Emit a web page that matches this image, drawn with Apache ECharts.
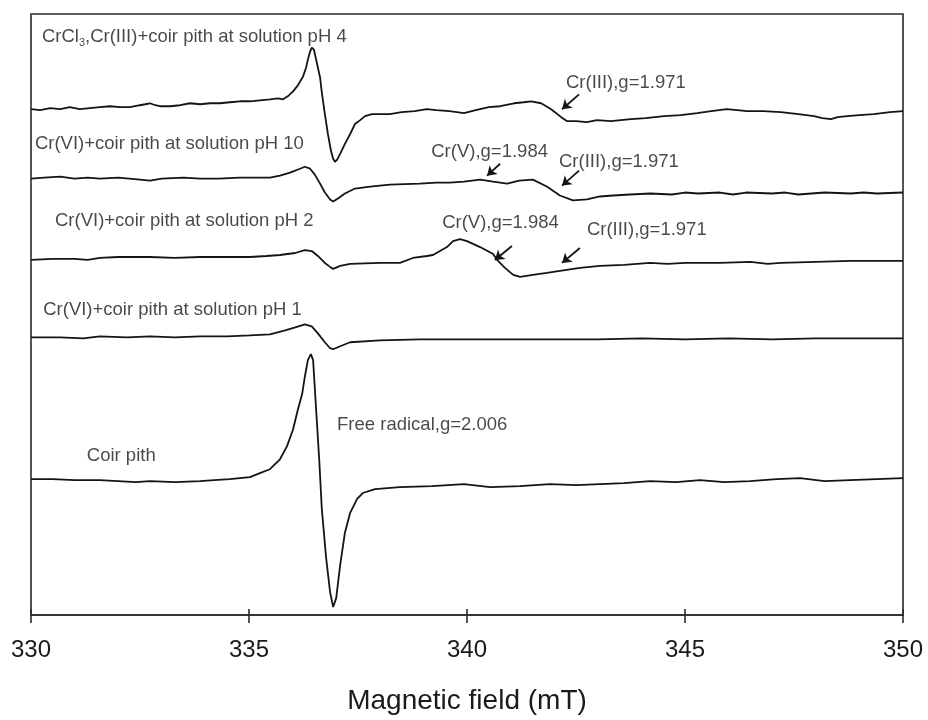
<!DOCTYPE html>
<html>
<head>
<meta charset="utf-8">
<title>EPR spectra of coir pith with chromium</title>
<script src="https://cdn.jsdelivr.net/npm/echarts@6/dist/echarts.min.js"></script>
<style>
  html, body { margin: 0; padding: 0; background: #ffffff; }
  #chart { width: 928px; height: 720px; }
</style>
</head>
<body>
<div id="chart"></div>
<script>
// Magnetic field (mT) and stacked EPR signal (arbitrary units, offset per sample)
const fieldTicks = [330, 335, 340, 345, 350];

const crCl3pH4 = [
  [330.00, 51.0], [330.21, 50.9], [330.44, 51.1], [330.67, 51.0], [330.89, 51.2], [331.12, 51.0],
  [331.35, 51.1], [331.58, 51.2], [331.81, 51.3], [332.04, 51.2], [332.27, 51.2], [332.50, 51.4],
  [332.62, 51.5], [332.73, 51.6], [332.85, 51.4], [332.96, 51.3], [333.19, 51.3], [333.42, 51.4],
  [333.65, 51.6], [333.88, 51.5], [334.11, 51.6], [334.33, 51.6], [334.56, 51.7], [334.79, 51.8],
  [335.02, 51.8], [335.25, 51.9], [335.48, 52.0], [335.67, 52.1], [335.78, 52.0], [335.89, 52.3],
  [336.01, 52.8], [336.12, 53.4], [336.24, 54.3], [336.31, 55.2], [336.35, 56.0], [336.40, 56.8],
  [336.44, 57.2], [336.49, 57.0], [336.54, 56.0], [336.58, 55.8], [336.63, 54.2], [336.67, 52.7],
  [336.74, 50.5], [336.81, 48.5], [336.88, 46.8], [336.93, 46.0], [336.97, 45.7], [337.02, 45.9],
  [337.09, 46.5], [337.20, 47.5], [337.32, 48.5], [337.43, 49.5], [337.55, 49.9], [337.66, 50.3],
  [337.82, 50.5], [338.00, 50.5], [338.23, 50.5], [338.50, 50.7], [338.80, 50.8], [339.08, 51.0],
  [339.30, 50.9], [339.60, 50.8], [339.93, 50.6], [340.20, 50.9], [340.50, 51.2], [340.76, 51.3],
  [341.08, 51.6], [341.30, 51.7], [341.47, 51.8], [341.70, 51.6], [341.93, 51.0], [342.16, 50.2],
  [342.29, 49.8], [342.50, 49.8], [342.75, 49.7], [342.98, 49.9], [343.30, 49.8], [343.76, 50.0],
  [344.10, 50.1], [344.52, 50.3], [344.90, 50.4], [345.28, 50.6], [345.60, 50.8], [345.96, 51.0],
  [346.20, 50.9], [346.42, 50.8], [346.80, 50.8], [347.20, 50.7], [347.60, 50.5], [347.96, 50.3],
  [348.15, 50.1], [348.35, 50.0], [348.50, 50.2], [348.72, 50.3], [349.00, 50.4], [349.33, 50.5],
  [349.70, 50.7], [350.00, 50.8]
];

const crVIpH10 = [
  [330.00, 44.0], [330.30, 44.1], [330.67, 44.2], [331.00, 44.0], [331.30, 44.1], [331.58, 44.0],
  [332.00, 44.1], [332.50, 43.9], [332.73, 43.8], [333.00, 44.0], [333.50, 44.1], [333.88, 44.0],
  [334.30, 44.0], [334.79, 44.1], [335.02, 44.1], [335.48, 44.1], [335.71, 44.3], [335.94, 44.6],
  [336.17, 45.0], [336.28, 45.2], [336.40, 45.0], [336.51, 44.4], [336.63, 43.5], [336.74, 42.6],
  [336.86, 41.9], [336.93, 41.7], [337.04, 42.0], [337.20, 42.5], [337.43, 43.0], [337.78, 43.2],
  [338.23, 43.4], [338.92, 43.5], [339.30, 43.6], [339.61, 43.6], [339.93, 43.7], [340.30, 43.9],
  [340.60, 43.7], [340.92, 43.5], [341.20, 43.8], [341.51, 43.9], [341.83, 43.2], [342.13, 42.3],
  [342.43, 41.8], [342.75, 41.9], [343.05, 42.2], [343.35, 42.3], [343.74, 42.4], [344.20, 42.5],
  [344.70, 42.4], [345.00, 42.6], [345.30, 42.5], [345.80, 42.6], [346.10, 42.4], [346.40, 42.6],
  [347.00, 42.5], [347.30, 42.6], [347.60, 42.4], [348.20, 42.6], [348.80, 42.5], [349.10, 42.6],
  [349.40, 42.5], [350.00, 42.6]
];

const crVIpH2 = [
  [330.00, 35.8], [330.50, 35.9], [331.00, 35.9], [331.30, 35.8], [331.58, 36.0], [332.00, 36.1],
  [332.73, 36.1], [333.30, 36.0], [333.88, 36.1], [334.50, 36.1], [335.02, 36.1], [335.40, 36.2],
  [335.71, 36.3], [336.06, 36.5], [336.28, 36.8], [336.44, 36.7], [336.58, 36.2], [336.74, 35.5],
  [336.86, 35.1], [336.93, 34.9], [337.09, 35.2], [337.32, 35.4], [338.00, 35.5], [338.46, 35.5],
  [338.76, 36.0], [339.08, 36.2], [339.22, 36.3], [339.54, 37.1], [339.68, 37.7], [339.84, 37.9],
  [340.00, 37.7], [340.30, 37.1], [340.60, 36.4], [340.69, 35.8], [340.87, 35.0], [341.06, 34.3],
  [341.22, 34.1], [341.51, 34.3], [341.83, 34.5], [342.13, 34.7], [342.59, 35.0], [343.05, 35.2],
  [343.60, 35.3], [344.20, 35.5], [344.60, 35.4], [345.00, 35.5], [345.80, 35.5], [346.50, 35.6],
  [346.90, 35.4], [347.20, 35.5], [348.00, 35.6], [348.80, 35.7], [349.40, 35.7], [350.00, 35.7]
];

const crVIpH1 = [
  [330.00, 28.0], [330.67, 28.0], [331.20, 27.9], [331.58, 28.1], [332.20, 28.0], [332.73, 28.1],
  [333.30, 28.0], [333.88, 28.1], [334.50, 28.1], [335.02, 28.2], [335.48, 28.3], [335.83, 28.7],
  [336.06, 29.0], [336.28, 29.3], [336.44, 29.1], [336.58, 28.4], [336.74, 27.5], [336.86, 26.9],
  [336.93, 26.8], [337.09, 27.1], [337.32, 27.5], [338.00, 27.7], [338.92, 27.8], [340.00, 27.8],
  [341.00, 27.8], [342.00, 27.8], [343.00, 27.8], [344.00, 27.9], [345.00, 27.8], [346.00, 27.9],
  [347.00, 27.8], [348.00, 27.9], [349.00, 27.9], [350.00, 27.9]
];

const coirPith = [
  [330.00, 13.7], [330.50, 13.7], [331.00, 13.6], [331.58, 13.6], [332.00, 13.5], [332.40, 13.4],
  [332.73, 13.5], [333.30, 13.4], [333.88, 13.5], [334.20, 13.6], [334.56, 13.7], [335.02, 13.9],
  [335.25, 14.3], [335.48, 14.7], [335.71, 15.7], [335.87, 17.0], [336.01, 18.7], [336.12, 20.7],
  [336.22, 22.3], [336.28, 24.0], [336.35, 25.7], [336.42, 26.3], [336.47, 25.7], [336.54, 20.7],
  [336.61, 15.7], [336.67, 10.7], [336.77, 5.7], [336.86, 2.3], [336.93, 0.8], [337.00, 1.7],
  [337.09, 5.0], [337.20, 8.3], [337.32, 10.3], [337.48, 11.7], [337.61, 12.3], [337.89, 12.7],
  [338.46, 12.9], [339.20, 13.0], [339.93, 13.2], [340.53, 12.9], [341.22, 13.0], [341.90, 13.2],
  [342.50, 13.1], [343.05, 13.2], [343.60, 13.3], [344.20, 13.5], [344.80, 13.4], [345.34, 13.6],
  [345.90, 13.4], [346.49, 13.5], [347.10, 13.7], [347.64, 13.8], [348.20, 13.5], [348.78, 13.6],
  [349.40, 13.7], [350.00, 13.8]
];

// Text annotations: [field, intensity, text] (left edge, vertical centre)
const annotations = [
  [330.25, 58.3, 'CrCl{sub|3},Cr(III)+coir pith at solution pH 4'],
  [330.09, 47.5, 'Cr(VI)+coir pith at solution pH 10'],
  [330.55, 39.7, 'Cr(VI)+coir pith at solution pH 2'],
  [330.28, 30.8, 'Cr(VI)+coir pith at solution pH 1'],
  [331.28, 16.0, 'Coir pith'],
  [337.02, 19.2, 'Free radical,g=2.006'],
  [342.27, 53.7, 'Cr(III),g=1.971'],
  [339.18, 46.7, 'Cr(V),g=1.984'],
  [342.11, 45.7, 'Cr(III),g=1.971'],
  [339.43, 39.5, 'Cr(V),g=1.984'],
  [342.75, 38.8, 'Cr(III),g=1.971']
];

// Pointer arrows: [[tail field, tail intensity], [tip field, tip intensity]]
const arrows = [
  [[342.57, 52.5], [342.18, 51.0]],
  [[340.76, 45.5], [340.46, 44.3]],
  [[342.57, 44.8], [342.18, 43.3]],
  [[341.03, 37.2], [340.64, 35.8]],
  [[342.59, 37.0], [342.18, 35.5]]
];

const ink = '#141414';
const textColor = '#1a1a1a';
const textFont = 'Liberation Sans, Arial, sans-serif';

function traceSeries(name, data) {
  return {
    name: name,
    type: 'line',
    data: data,
    showSymbol: false,
    symbol: 'none',
    smooth: false,
    animation: false,
    lineStyle: { color: ink, width: 1.8 },
    z: 3
  };
}

const chart = echarts.init(document.getElementById('chart'), null, { renderer: 'canvas' });

chart.setOption({
  backgroundColor: '#ffffff',
  animation: false,
  grid: {
    left: 31, right: 25, top: 14, bottom: 100,
    show: true, borderColor: '#2a2a2a', borderWidth: 1.6, backgroundColor: 'transparent'
  },
  xAxis: [
    {
      type: 'value',
      min: fieldTicks[0],
      max: fieldTicks[fieldTicks.length - 1],
      interval: 5,
      name: 'Magnetic field (mT)',
      nameLocation: 'middle',
      nameGap: 72,
      nameTextStyle: { fontFamily: textFont, fontSize: 28, color: textColor },
      axisLine: { show: true, onZero: false, lineStyle: { color: '#2a2a2a', width: 1.6 } },
      axisTick: { show: true, inside: false, length: 8, lineStyle: { color: '#2a2a2a', width: 1.6 } },
      axisLabel: { fontFamily: textFont, fontSize: 24, color: textColor, margin: 23 },
      splitLine: { show: false }
    },
    {
      type: 'value',
      position: 'bottom',
      min: fieldTicks[0],
      max: fieldTicks[fieldTicks.length - 1],
      interval: 5,
      axisLine: { show: false, onZero: false },
      axisTick: { show: true, inside: true, length: 6, lineStyle: { color: '#2a2a2a', width: 1.6 } },
      axisLabel: { show: false },
      splitLine: { show: false }
    }
  ],
  yAxis: {
    type: 'value',
    min: 0,
    max: 60.6,
    show: false
  },
  series: [
    traceSeries('CrCl3, Cr(III) + coir pith, pH 4', crCl3pH4),
    traceSeries('Cr(VI) + coir pith, pH 10', crVIpH10),
    traceSeries('Cr(VI) + coir pith, pH 2', crVIpH2),
    traceSeries('Cr(VI) + coir pith, pH 1', crVIpH1),
    traceSeries('Coir pith', coirPith),
    {
      name: 'labels',
      type: 'scatter',
      symbolSize: 0,
      silent: true,
      animation: false,
      data: annotations.map(a => ({ value: [a[0], a[1]], text: a[2] })),
      label: {
        show: true,
        position: 'right',
        distance: 0,
        fontFamily: textFont,
        fontSize: 18.5,
        color: textColor,
        formatter: p => p.data.text,
        rich: {
          sub: { fontFamily: textFont, fontSize: 11, color: textColor, verticalAlign: 'bottom', padding: [12, 0, 0, 0] }
        }
      },
      z: 5
    },
    {
      name: 'arrows',
      type: 'lines',
      coordinateSystem: 'cartesian2d',
      silent: true,
      animation: false,
      symbol: ['none', 'arrow'],
      symbolSize: 9,
      lineStyle: { color: ink, width: 1.8, opacity: 1 },
      data: arrows.map(a => ({ coords: a })),
      z: 5
    }
  ]
});
</script>
</body>
</html>
